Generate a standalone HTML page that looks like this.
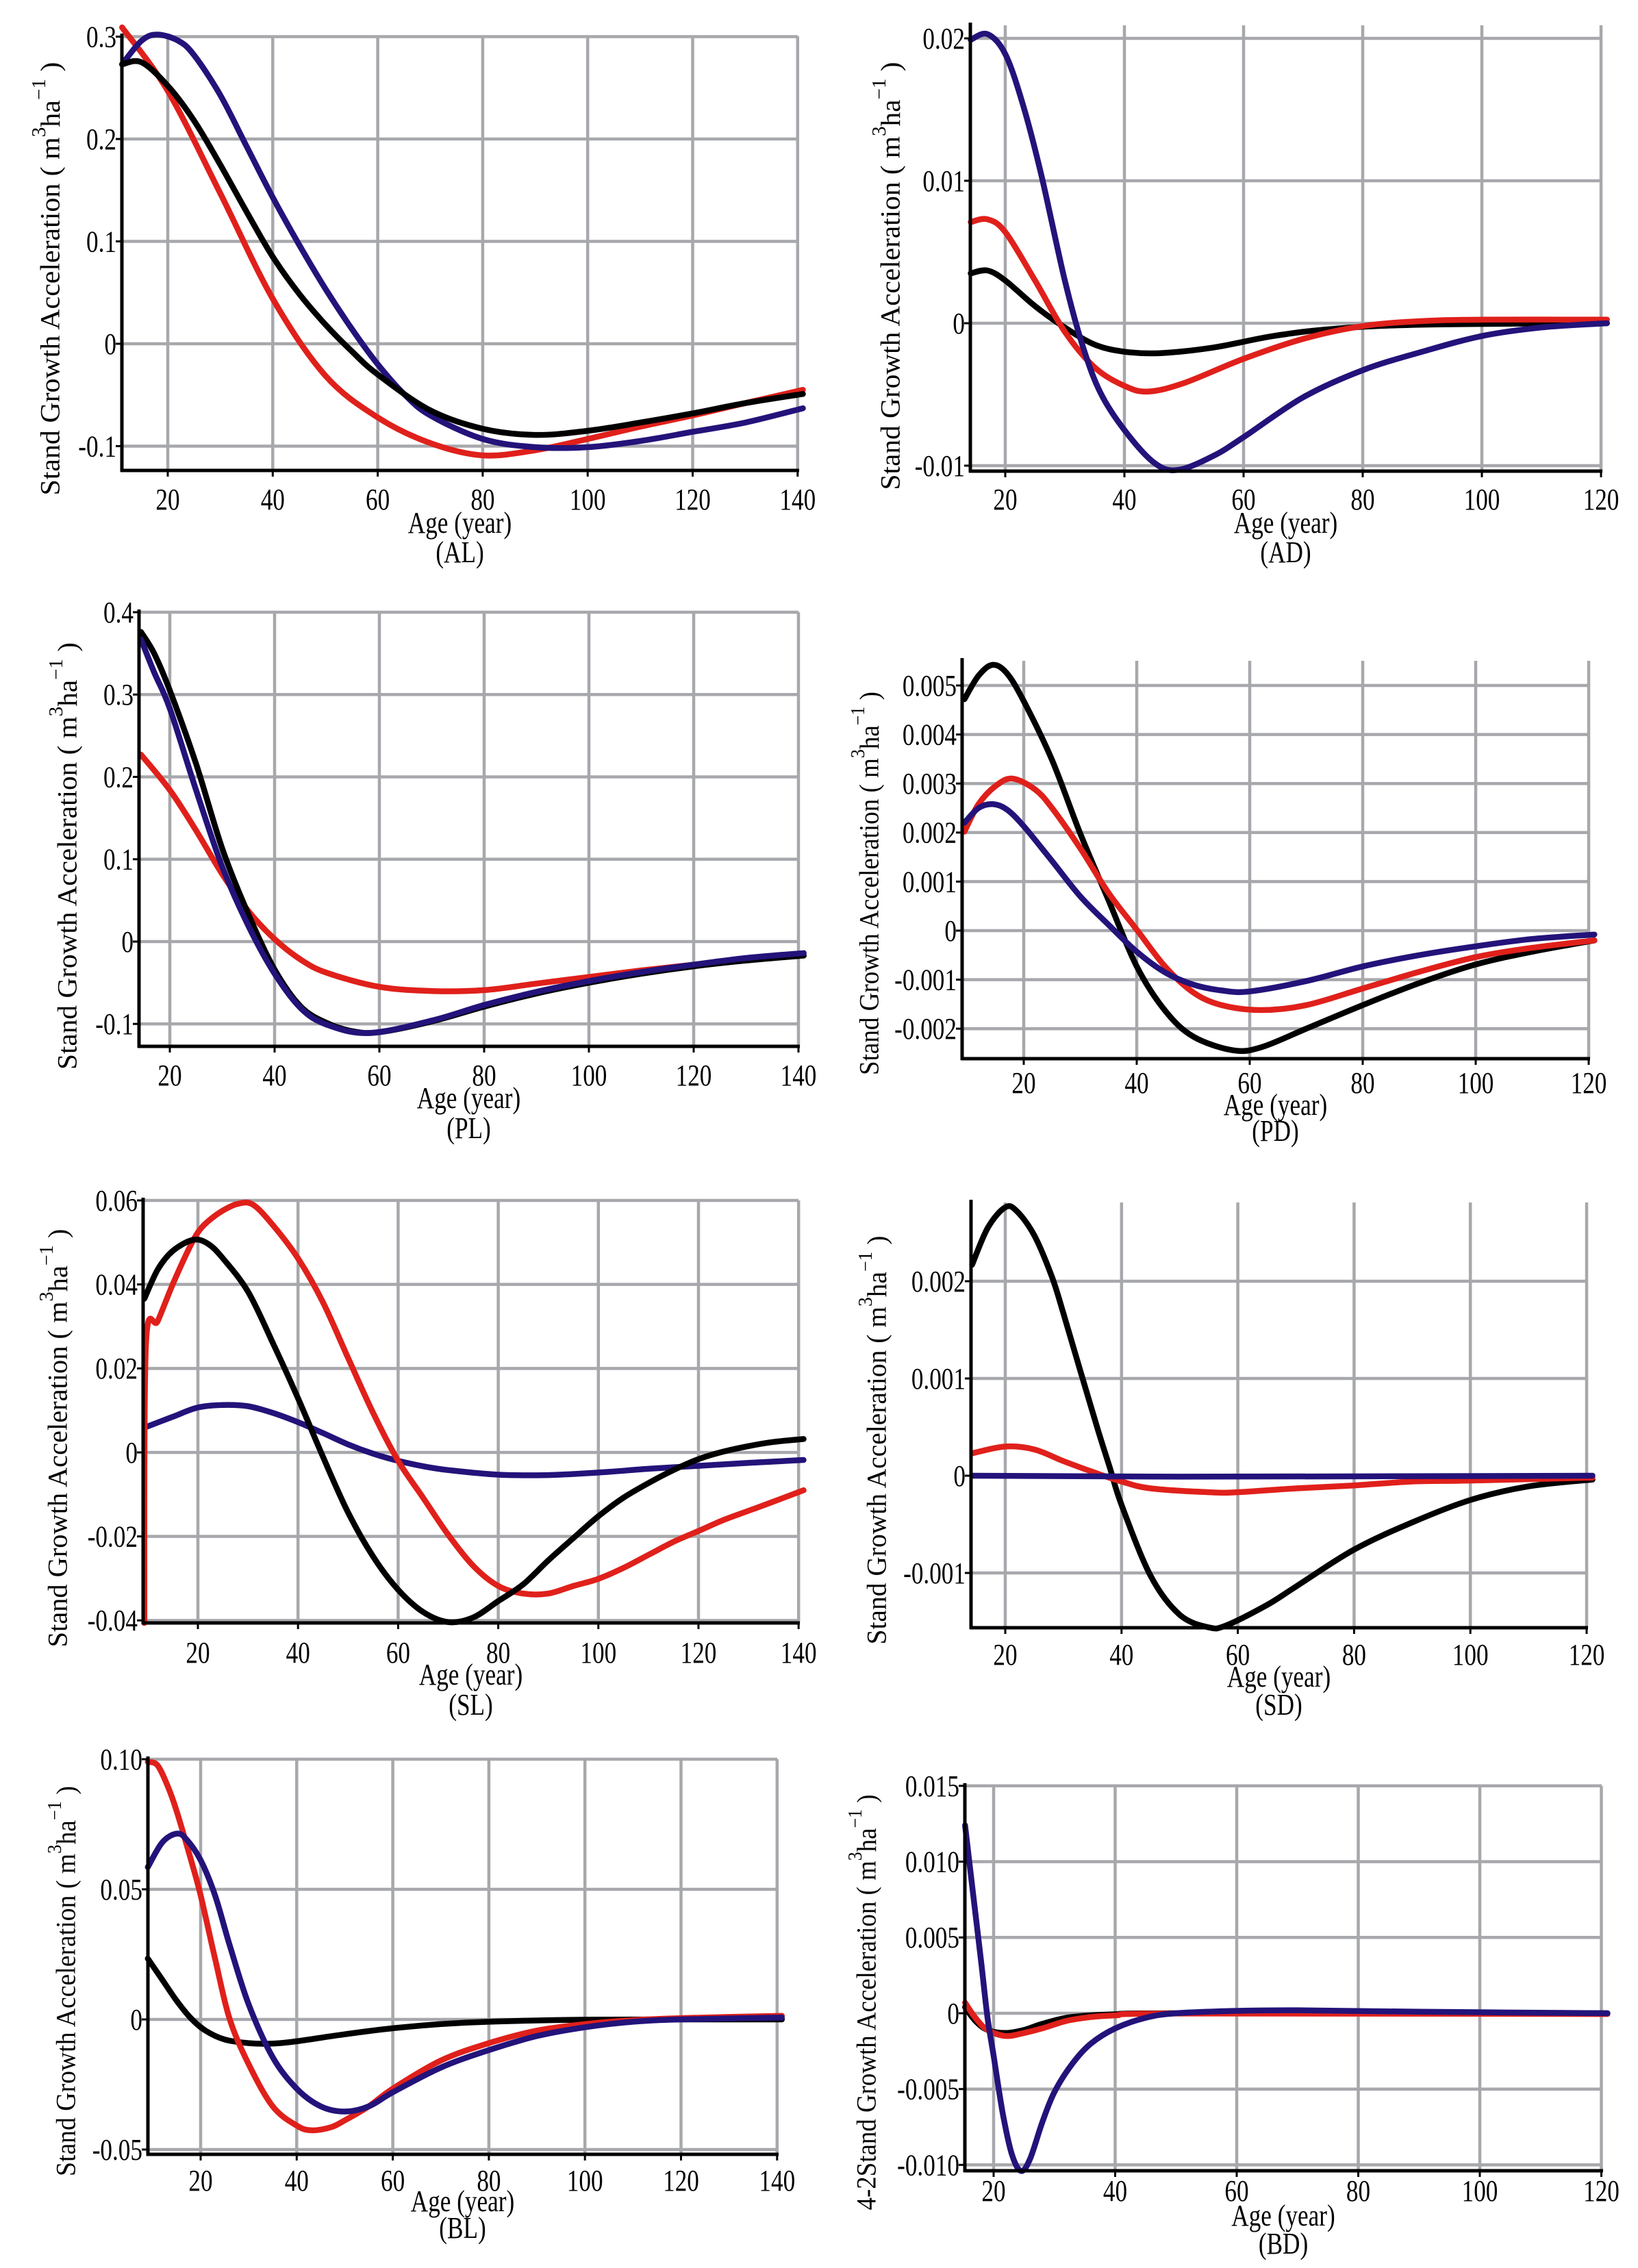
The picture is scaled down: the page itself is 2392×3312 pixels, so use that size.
<!DOCTYPE html>
<html><head><meta charset="utf-8"><style>
html,body{margin:0;padding:0;background:#fff}
svg{display:block}
text{font-family:"Liberation Serif",serif;fill:#000}
</style></head><body>
<svg id="fig" width="2392" height="3312" viewBox="0 0 2392 3312" xmlns="http://www.w3.org/2000/svg"></svg>
<script>
// ---------- DATA ----------
const alRedAge=[11.3,20,30,40,50,60,70,80,90,100,110,120,130,141];
const alRed=[0.309,0.247,0.147,0.044,-0.031,-0.072,-0.097,-0.109,-0.104,-0.093,-0.081,-0.070,-0.058,-0.045];
const alBlkAge=[11.3,15,20,25,30,35,40,45,50,55,60,70,80,90,100,110,120,130,141];
const alBlk=[0.273,0.275,0.252,0.218,0.175,0.129,0.085,0.049,0.019,-0.007,-0.030,-0.065,-0.083,-0.089,-0.085,-0.077,-0.068,-0.058,-0.049];
const alBluAge=[11.3,15,18,22,25,30,35,40,45,50,55,60,65,70,80,90,100,110,120,130,141];
const alBlu=[0.273,0.296,0.302,0.296,0.282,0.243,0.193,0.143,0.097,0.054,0.015,-0.020,-0.049,-0.070,-0.093,-0.101,-0.101,-0.095,-0.086,-0.077,-0.063];

const adBluAge=[14.2,17,20,23,26,30,33,36,40,45,49,55,60,70,80,90,100,110,121];
const adBlu=[0.0199,0.0203,0.0189,0.0153,0.0105,0.003,-0.0016,-0.0049,-0.0075,-0.0098,-0.0103,-0.0093,-0.0080,-0.0052,-0.0033,-0.0020,-0.0009,-0.0003,0];
const adRedAge=[14.2,17,20,25,30,35,40,44,50,60,70,80,90,100,121];
const adRed=[0.0071,0.0073,0.0064,0.003,-0.0006,-0.0031,-0.0044,-0.0048,-0.0042,-0.0025,-0.0011,-0.0002,0.00015,0.00025,0.00025];
const adBlkAge=[14.2,17,20,25,30,35,40,46,55,65,75,90,121];
const adBlk=[0.0035,0.0037,0.003,0.0012,-0.0003,-0.0015,-0.002,-0.0021,-0.0017,-0.0009,-0.0004,-0.0001,0];

const plBlkAge=[14.5,17,20,25,30,35,40,45,50,55,60,70,80,90,100,110,120,130,141];
const plBlk=[0.376,0.35,0.305,0.216,0.113,0.033,-0.034,-0.079,-0.099,-0.109,-0.110,-0.097,-0.079,-0.063,-0.050,-0.039,-0.030,-0.023,-0.017];
const plBluAge=[14.5,17,20,25,30,35,40,45,50,58,70,80,90,100,110,120,130,141];
const plBlu=[0.367,0.327,0.283,0.184,0.091,0.019,-0.039,-0.081,-0.101,-0.111,-0.096,-0.077,-0.061,-0.048,-0.037,-0.028,-0.020,-0.014];
const plRedAge=[14.5,20,25,30,35,40,45,50,60,70,80,90,100,110,120,130,141];
const plRed=[0.227,0.184,0.135,0.082,0.037,0.003,-0.022,-0.038,-0.055,-0.060,-0.059,-0.051,-0.043,-0.035,-0.028,-0.022,-0.017];

const pdBlkAge=[9.5,12,14.5,17,20,25,30,35,40,45,50,57,62,70,80,90,100,110,121];
const pdBlk=[0.00472,0.0052,0.00542,0.00525,0.00468,0.00348,0.00198,0.00062,-0.00073,-0.00163,-0.00216,-0.00244,-0.00238,-0.002,-0.00152,-0.00107,-0.00069,-0.00043,-0.0002];
const pdRedAge=[9.5,12,15,18,22,25,30,35,40,45,50,55,62,70,80,90,100,110,121];
const pdRed=[0.00202,0.00258,0.00295,0.0031,0.00288,0.0025,0.00168,0.00077,0.00002,-0.00073,-0.00126,-0.00152,-0.00162,-0.00152,-0.00118,-0.00084,-0.00054,-0.00035,-0.0002];
const pdBluAge=[9.5,12,14.5,17,20,25,30,35,40,45,50,55,60,70,80,90,100,110,121];
const pdBlu=[0.0022,0.0025,0.00258,0.00247,0.00213,0.00142,0.0007,0.00012,-0.00043,-0.00085,-0.0011,-0.00122,-0.00124,-0.00103,-0.00073,-0.0005,-0.00032,-0.00017,-0.00008];

const slRedAge=[9.3,9.6,12,15,18,20,22,25,28,31,35,40,45,50,55,60,65,70,75,80,85,90,95,100,105,110,115,120,125,130,135,141];
const slRed=[-0.0406,0.0252,0.0313,0.0401,0.048,0.0524,0.055,0.0576,0.0592,0.059,0.0541,0.0462,0.0357,0.0225,0.0094,-0.002,-0.0108,-0.0196,-0.027,-0.0318,-0.0336,-0.0336,-0.0318,-0.0301,-0.0275,-0.0244,-0.0213,-0.0187,-0.0161,-0.0139,-0.0117,-0.009];
const slBlkAge=[9.3,12,15,19,22,25,30,35,40,45,50,55,60,65,70,75,80,85,90,95,100,105,110,115,120,125,130,135,141];
const slBlk=[0.0366,0.0436,0.048,0.0506,0.0497,0.0462,0.0383,0.026,0.0129,-0.0011,-0.0143,-0.0248,-0.0327,-0.038,-0.0404,-0.0393,-0.0354,-0.0314,-0.0257,-0.0204,-0.0152,-0.0108,-0.0073,-0.0042,-0.0016,0.0002,0.0015,0.0025,0.0032];
const slBluAge=[9.3,15,20,25,30,35,40,45,50,55,60,65,70,80,90,100,110,120,130,141];
const slBlu=[0.0059,0.0085,0.0107,0.0113,0.011,0.0094,0.0072,0.0046,0.0019,-0.0003,-0.002,-0.0033,-0.0042,-0.0053,-0.0054,-0.0048,-0.0039,-0.0032,-0.0025,-0.0018];

const sdBlkAge=[14.3,17,20,22,25,28,30,33,36,38,40,45,50,55,58,65,70,80,90,100,110,121];
const sdBlk=[0.00217,0.00255,0.00276,0.00272,0.00247,0.00205,0.00167,0.00106,0.00046,0.00008,-0.0003,-0.00103,-0.00143,-0.00156,-0.00154,-0.00133,-0.00114,-0.00076,-0.00048,-0.00025,-0.00011,-0.00004];
const sdRedAge=[14.3,20,25,30,35,40,45,55,60,70,80,90,100,121];
const sdRed=[0.00023,0.0003,0.00027,0.00015,0.00004,-0.00006,-0.00013,-0.00017,-0.00017,-0.00013,-0.0001,-0.00006,-0.00005,-0.00002];
const sdBluAge=[14.3,50,121];
const sdBlu=[0,-0.00001,0];

const blRedAge=[9,11,13,15,18,20,23,26,30,35,40,43,47,50,55,60,70,80,90,100,110,120,141];
const blRed=[0.099,0.0977,0.0903,0.0801,0.0612,0.0477,0.0234,0.0004,-0.0172,-0.0334,-0.0408,-0.0426,-0.0415,-0.0388,-0.0334,-0.0266,-0.0158,-0.0091,-0.0043,-0.0018,-0.0003,0.0005,0.0014];
const blBluAge=[9,12,15,17,20,23,26,30,35,40,45,50,55,60,70,80,90,100,110,120,141];
const blBlu=[0.0585,0.068,0.0714,0.0693,0.0612,0.0477,0.0288,0.0058,-0.0145,-0.0266,-0.0334,-0.0354,-0.0334,-0.028,-0.0185,-0.0118,-0.0064,-0.003,-0.0009,0,0.0007];
const blBlkAge=[9,12,15,18,21,25,30,35,40,50,60,70,80,100,141];
const blBlk=[0.0234,0.0153,0.0072,0.0004,-0.0043,-0.0077,-0.0091,-0.0093,-0.0084,-0.0057,-0.0034,-0.0018,-0.0009,-0.0001,0];

const bdBluAge=[15.3,16.5,18,19,20,21.5,23,24.5,26,28,30,33,36,40,45,50,60,70,90,121];
const bdBlu=[0.0124,0.0083,0.0032,-0.0003,-0.0028,-0.0066,-0.0093,-0.0104,-0.0096,-0.0072,-0.0052,-0.0033,-0.002,-0.001,-0.0003,0,0.00016,0.0002,0.0001,0];
const bdRedAge=[15.3,17,19,22,25,28,32,36,40,50,121];
const bdRed=[0.0007,-0.0003,-0.0011,-0.0015,-0.0013,-0.001,-0.0005,-0.00025,-0.00014,-0.00002,-0.00005];
const bdBlkAge=[15.3,17,19,22,25,28,32,36,40,50,121];
const bdBlk=[0.0004,-0.0005,-0.0011,-0.0013,-0.0011,-0.0007,-0.0003,-0.00014,-0.00007,0,0];

const xTicksL=[20,40,60,80,100,120,140];
const xTicksR=[20,40,60,80,100,120];
const alYTicks=[0.3,0.2,0.1,0,-0.1];
const alYLabels=["0.3","0.2","0.1","0","-0.1"];
const adYTicks=[0.02,0.01,0,-0.01];
const adYLabels=["0.02","0.01","0","-0.01"];
const plYTicks=[0.4,0.3,0.2,0.1,0,-0.1];
const plYLabels=["0.4","0.3","0.2","0.1","0","-0.1"];
const pdYTicks=[0.005,0.004,0.003,0.002,0.001,0,-0.001,-0.002];
const pdYLabels=["0.005","0.004","0.003","0.002","0.001","0","-0.001","-0.002"];
const slYTicks=[0.06,0.04,0.02,0,-0.02,-0.04];
const slYLabels=["0.06","0.04","0.02","0","-0.02","-0.04"];
const sdYTicks=[0.002,0.001,0,-0.001];
const sdYLabels=["0.002","0.001","0","-0.001"];
const blYTicks=[0.10,0.05,0,-0.05];
const blYLabels=["0.10","0.05","0","-0.05"];
const bdYTicks=[0.015,0.010,0.005,0,-0.005,-0.010];
const bdYLabels=["0.015","0.010","0.005","0","-0.005","-0.010"];

// ---------- LAYOUT ----------
const RED="#e0201b",BLU="#23137a",BLK="#000";
const panels=[
 {id:"al",tag:"(AL)",ax:178,x20:245,p20:153.3,xt:xTicksL,xr:1165,y0:502,pu:1495,yt:alYTicks,yl:alYLabels,top:53,bot:687,ly:[729,763,806],tx:73,ty:407,tl:633,title:"Stand Growth Acceleration",
  s:[[alRedAge,alRed,RED],[alBluAge,alBlu,BLU],[alBlkAge,alBlk,BLK]]},
 {id:"ad",tag:"(AD)",ax:1417,x20:1468,p20:174,xt:xTicksR,xr:2338,y0:472,pu:20800,yt:adYTicks,yl:adYLabels,top:37,bot:688,ly:[729,763,806],tx:1300,ty:403,tl:625,title:"Stand Growth Acceleration",
  s:[[adBlkAge,adBlk,BLK],[adRedAge,adRed,RED],[adBluAge,adBlu,BLU]]},
 {id:"pl",tag:"(PL)",ax:203,x20:248,p20:153,xt:xTicksL,xr:1166,y0:1375,pu:1202.5,yt:plYTicks,yl:plYLabels,top:894,bot:1528,ly:[1570,1603,1647],tx:98,ty:1250,tl:624,title:"Stand Growth Acceleration",
  s:[[plRedAge,plRed,RED],[plBlkAge,plBlk,BLK],[plBluAge,plBlu,BLU]]},
 {id:"pd",tag:"(PD)",ax:1405,x20:1495,p20:165,xt:xTicksR,xr:2320,y0:1359,pu:71600,yt:pdYTicks,yl:pdYLabels,top:965,bot:1546,ly:[1581,1613,1651],tx:1269,ty:1290,tl:560,title:"Stand Growth Acceleration",
  s:[[pdBlkAge,pdBlk,BLK],[pdRedAge,pdRed,RED],[pdBluAge,pdBlu,BLU]]},
 {id:"sl",tag:"(SL)",ax:209,x20:289,p20:146.2,xt:xTicksL,xr:1166,y0:2121,pu:6133,yt:slYTicks,yl:slYLabels,top:1753,bot:2370,ly:[2413,2445,2489],tx:84,ty:2100,tl:611,title:"Stand Growth Acceleration",
  s:[[slBluAge,slBlu,BLU],[slRedAge,slRed,RED],[slBlkAge,slBlk,BLK]]},
 {id:"sd",tag:"(SD)",ax:1418,x20:1468,p20:169.8,xt:xTicksR,xr:2317,y0:2155,pu:142000,yt:sdYTicks,yl:sdYLabels,top:1756,bot:2377,ly:[2416,2448,2489],tx:1280,ty:2103,tl:597,title:"Stand Growth Acceleration",
  s:[[sdBlkAge,sdBlk,BLK],[sdRedAge,sdRed,RED],[sdBluAge,sdBlu,BLU]]},
 {id:"bl",tag:"(BL)",ax:216,x20:293,p20:140.3,xt:xTicksL,xr:1135,y0:2949,pu:3800,yt:blYTicks,yl:blYLabels,top:2569,bot:3146,ly:[3184,3214,3253],tx:96,ty:2893,tl:570,title:"Stand Growth Acceleration",
  s:[[blBlkAge,blBlk,BLK],[blRedAge,blRed,RED],[blBluAge,blBlu,BLU]]},
 {id:"bd",tag:"(BD)",ax:1409,x20:1451,p20:177.5,xt:xTicksR,xr:2339,y0:2940,pu:22140,yt:bdYTicks,yl:bdYLabels,top:2608,bot:3170,ly:[3199,3235,3276],tx:1265,ty:2924,tl:607,title:"4-2Stand Growth Acceleration",
  s:[[bdBlkAge,bdBlk,BLK],[bdRedAge,bdRed,RED],[bdBluAge,bdBlu,BLU]]}
];

const NS="http://www.w3.org/2000/svg";
const svg=document.getElementById("fig");
function mk(tag,attrs,parent){const e=document.createElementNS(NS,tag);for(const k in attrs)e.setAttribute(k,attrs[k]);parent.appendChild(e);return e;}
function smooth(pts){
 let d="M"+pts[0][0].toFixed(1)+","+pts[0][1].toFixed(1);
 for(let i=0;i<pts.length-1;i++){
  const p0=pts[i-1]||pts[i],p1=pts[i],p2=pts[i+1],p3=pts[i+2]||p2;
  const c1=[p1[0]+(p2[0]-p0[0])/6,p1[1]+(p2[1]-p0[1])/6];
  const c2=[p2[0]-(p3[0]-p1[0])/6,p2[1]-(p3[1]-p1[1])/6];
  d+="C"+c1[0].toFixed(1)+","+c1[1].toFixed(1)+" "+c2[0].toFixed(1)+","+c2[1].toFixed(1)+" "+p2[0].toFixed(1)+","+p2[1].toFixed(1);
 }
 return d;
}
panels.forEach(P=>{
 const xs=a=>P.x20+(a-20)*P.p20/20;
 const ys=v=>P.y0-v*P.pu;
 const g=mk("g",{},svg);
 
 
 P.xt.forEach(t=>{
  const l=mk("line",{x1:xs(t),x2:xs(t),y1:P.top,y2:P.bot,stroke:"#a7a8ac","stroke-width":4.5},g);
  
  
 });
 P.yt.forEach(t=>{
  const l=mk("line",{x1:P.ax,x2:P.xr,y1:ys(t),y2:ys(t),stroke:"#a7a8ac","stroke-width":4.5},g);
  
  
 });
 P.s.forEach((s,i)=>{
  const pts=s[0].map((a,k)=>[xs(a),ys(s[1][k])]);
  const p=mk("path",{d:smooth(pts),fill:"none",stroke:s[2],"stroke-width":8.5,"stroke-linejoin":"round","stroke-linecap":"round"},g);
  
  
 });
 const ya=mk("line",{x1:P.ax,x2:P.ax,y1:P.top-4,y2:P.bot+2,stroke:"#000","stroke-width":5},g);
 
 
 const xa=mk("line",{x1:P.ax-2,x2:P.xr+2,y1:P.bot,y2:P.bot,stroke:"#000","stroke-width":5},g);
 
 
 P.xt.forEach(t=>{
  mk("line",{x1:xs(t),x2:xs(t),y1:P.bot,y2:P.bot+9,stroke:"#000","stroke-width":3},g);
  const tx=mk("text",{x:0,y:0,"font-size":44,"text-anchor":"middle","dominant-baseline":"central",transform:`translate(${xs(t)},${P.ly[0]}) scale(0.8,1)`},g);
  tx.textContent=t;
  
  
 });
 P.yt.forEach((t,i)=>{
  mk("line",{x1:P.ax-9,x2:P.ax,y1:ys(t),y2:ys(t),stroke:"#000","stroke-width":3},g);
  const tx=mk("text",{x:0,y:0,"font-size":44,"text-anchor":"end","dominant-baseline":"central",transform:`translate(${P.ax-8},${ys(t)}) scale(0.8,1)`},g);
  tx.textContent=P.yl[i];
  
  
 });
 const xt=mk("text",{x:0,y:0,"font-size":44,"text-anchor":"middle","dominant-baseline":"central",transform:`translate(${(P.ax+P.xr)/2},${P.ly[1]}) scale(0.8,1)`},g);
 xt.textContent="Age  (year)";
 xt.setAttribute('xml:space','preserve');
 
 
 const tg=mk("text",{x:0,y:0,"font-size":44,"text-anchor":"middle","dominant-baseline":"central",transform:`translate(${(P.ax+P.xr)/2},${P.ly[2]}) scale(0.8,1)`},g);
 tg.textContent=P.tag;
 
 
 const yt=mk("text",{x:0,y:0,"font-size":40,"text-anchor":"middle","dominant-baseline":"central",textLength:P.tl,lengthAdjust:"spacingAndGlyphs",transform:`translate(${P.tx},${P.ty}) rotate(-90)`},g);
 
 
 yt.appendChild(document.createTextNode(P.title+"  ( m"));
 const s1=mk("tspan",{"baseline-shift":"super","font-size":28},yt);s1.textContent="3";
 const s2=mk("tspan",{},yt);s2.textContent="ha";
 const s3=mk("tspan",{"baseline-shift":"super","font-size":28},yt);s3.textContent="−1";
 const s4=mk("tspan",{},yt);s4.textContent=" )";
});
</script>
</body></html>
